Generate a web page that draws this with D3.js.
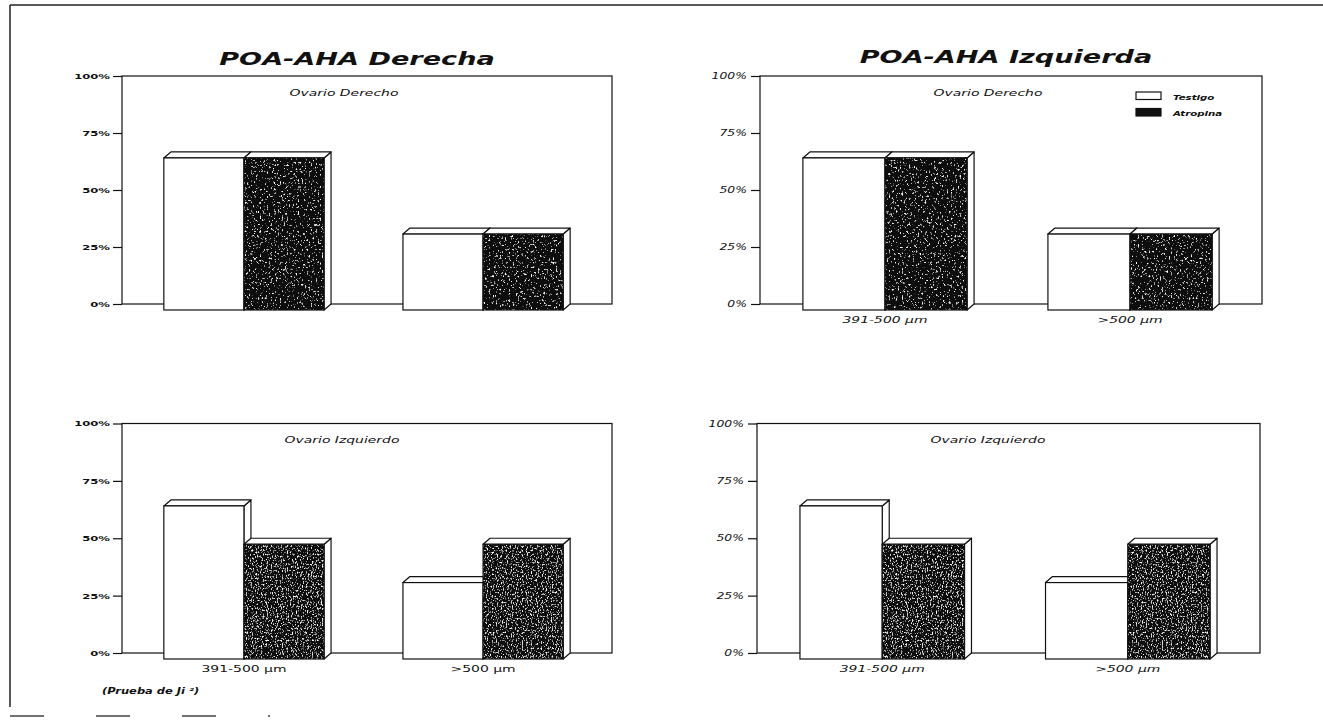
<!DOCTYPE html>
<html>
<head>
<meta charset="utf-8">
<script src="https://cdn.jsdelivr.net/npm/d3@7"></script>
<style>
  body { margin: 0; background: #fff; }
  svg { display: block; }
  text { font-family: "DejaVu Sans", sans-serif; fill: #111; }
</style>
</head>
<body>
<script>
const W = 1323, H = 721;
const SX = 1.55;   // the scanned lettering is wide, stretch glyphs horizontally
const dx = 7, dy = 6; // 3d depth of the bars

const categories = ["391-500 µm", ">500 µm"];
const series = ["Testigo", "Atropina"];
const yTicks = [0, 25, 50, 75, 100];

// percentages
const derOvDerTestigo = [66.7, 33.3];
const derOvDerAtropina = [66.7, 33.3];
const izqOvDerTestigo = [66.7, 33.3];
const izqOvDerAtropina = [66.7, 33.3];
const derOvIzqTestigo = [66.7, 33.3];
const derOvIzqAtropina = [50, 50];
const izqOvIzqTestigo = [66.7, 33.3];
const izqOvIzqAtropina = [50, 50];

const panels = [
    { title: "POA-AHA Derecha", sub: "Ovario Derecho", testigo: derOvDerTestigo, atropina: derOvDerAtropina,
      x0: 122, x1: 612, top: 76, bottom: 304, titleX: 357, titleY: 65, subX: 344, subY: 95.5,
      italic: false, cats: false, legend: false, tex: "speckTop" },
    { title: "POA-AHA Izquierda", sub: "Ovario Derecho", testigo: izqOvDerTestigo, atropina: izqOvDerAtropina,
      x0: 760, x1: 1262, top: 76, bottom: 304, titleX: 1006, titleY: 63, subX: 988, subY: 95.5,
      italic: true, cats: true, legend: true, tex: "speckTop" },
    { title: null, sub: "Ovario Izquierdo", testigo: derOvIzqTestigo, atropina: derOvIzqAtropina,
      x0: 122, x1: 612, top: 423.5, bottom: 653, subX: 342, subY: 443,
      italic: false, cats: true, legend: false, tex: "speckBot" },
    { title: null, sub: "Ovario Izquierdo", testigo: izqOvIzqTestigo, atropina: izqOvIzqAtropina,
      x0: 757, x1: 1260, top: 423.5, bottom: 653, subX: 988, subY: 443,
      italic: true, cats: true, legend: false, tex: "speckBot" }
];

const svg = d3.select("body").append("svg")
    .attr("width", W)
    .attr("height", H);

// speckled dark fill, like the scanned hatch
const defs = svg.append("defs");
function speckle(id, seed, freq, a, b) {
    const f = defs.append("filter").attr("id", id)
        .attr("x", 0).attr("y", 0).attr("width", 1).attr("height", 1);
    f.append("feTurbulence")
        .attr("type", "fractalNoise")
        .attr("baseFrequency", freq)
        .attr("numOctaves", 3)
        .attr("seed", seed)
        .attr("result", "noise");
    f.append("feColorMatrix")
        .attr("in", "noise")
        .attr("type", "matrix")
        .attr("values", `0 0 0 0 1  0 0 0 0 1  0 0 0 0 1  ${a} 0 0 0 ${b}`)
        .attr("result", "specks");
    f.append("feComposite")
        .attr("in", "specks")
        .attr("in2", "SourceGraphic")
        .attr("operator", "atop");
}
speckle("speckTop", 4, "0.55 0.45", 6, -3.75);
speckle("speckBot", 9, "0.8 0.5", 4.5, -2.5);

function label(g, x, y, txt, size, style, weight, anchor, sx) {
    return g.append("text")
        .attr("transform", `translate(${x},${y}) scale(${sx || SX},1)`)
        .attr("text-anchor", anchor || "middle")
        .style("font-size", size + "px")
        .style("font-style", style)
        .style("font-weight", weight)
        .text(txt);
}

// page frame from the scan
svg.append("line").attr("x1", 10).attr("x2", W).attr("y1", 5).attr("y2", 5)
    .attr("stroke", "#222").attr("stroke-width", 1.5);
svg.append("line").attr("x1", 10).attr("x2", 10).attr("y1", 5).attr("y2", 707)
    .attr("stroke", "#222").attr("stroke-width", 1.5);
svg.append("line").attr("x1", 10).attr("x2", 270).attr("y1", 716).attr("y2", 716)
    .attr("stroke", "#444").attr("stroke-width", 1.5)
    .attr("stroke-dasharray", "34 52");

panels.forEach(p => {
    const g = svg.append("g");

    const y = d3.scaleLinear().domain([0, 100]).range([p.bottom, p.top]);
    const xBand = d3.scaleBand()
        .domain(categories)
        .range([p.x0, p.x1 - dx])
        .paddingInner(0.33)
        .paddingOuter(0.175);
    const xSer = d3.scaleBand()
        .domain(series)
        .range([0, xBand.bandwidth()]);

    g.append("rect")
        .attr("x", p.x0).attr("y", p.top)
        .attr("width", p.x1 - p.x0).attr("height", p.bottom - p.top)
        .attr("fill", "none")
        .attr("stroke", "#111")
        .attr("stroke-width", 1.2);

    const yAxisG = g.append("g")
        .attr("transform", `translate(${p.x0},0)`)
        .call(d3.axisLeft(y)
            .tickValues(yTicks)
            .tickFormat(d => d + "%")
            .tickSize(9)
            .tickSizeOuter(0));
    yAxisG.select(".domain").remove();
    yAxisG.selectAll(".tick line").attr("stroke", "#111").attr("stroke-width", 1.2);
    yAxisG.selectAll(".tick text")
        .attr("x", null)
        .attr("transform", `translate(${p.italic ? -13 : -12},0) scale(${SX},1)`)
        .style("font-size", p.italic ? "8px" : "7.5px")
        .style("font-style", p.italic ? "oblique" : "normal")
        .style("font-weight", p.italic ? "normal" : "bold")
        .attr("fill", "#111");

    const vals = { Testigo: p.testigo, Atropina: p.atropina };
    const bars = [];
    categories.forEach((c, i) => {
        series.forEach(s => bars.push({ cat: c, ser: s, v: vals[s][i] }));
    });

    const bw = xSer.bandwidth();
    const y0 = y(0);
    const bar = g.selectAll(".bar")
        .data(bars)
        .join("g")
        .attr("class", "bar");

    // side face
    bar.append("path")
        .attr("d", d => {
            const x = xBand(d.cat) + xSer(d.ser) + bw;
            const yb = y(d.v);
            return `M${x},${yb + dy}L${x + dx},${yb}L${x + dx},${y0}L${x},${y0 + dy}Z`;
        })
        .attr("fill", "#fff").attr("stroke", "#111").attr("stroke-width", 1.2)
        .attr("stroke-linejoin", "round");
    // top face
    bar.append("path")
        .attr("d", d => {
            const x = xBand(d.cat) + xSer(d.ser);
            const yb = y(d.v);
            return `M${x},${yb + dy}L${x + dx},${yb}L${x + bw + dx},${yb}L${x + bw},${yb + dy}Z`;
        })
        .attr("fill", "#fff").attr("stroke", "#111").attr("stroke-width", 1.2)
        .attr("stroke-linejoin", "round");
    // front face
    bar.append("rect")
        .attr("x", d => xBand(d.cat) + xSer(d.ser))
        .attr("y", d => y(d.v) + dy)
        .attr("width", bw)
        .attr("height", d => y0 - y(d.v))
        .attr("fill", d => d.ser === "Testigo" ? "#fff" : "#0e0e0e")
        .attr("filter", d => d.ser === "Testigo" ? null : `url(#${p.tex})`);
    bar.append("rect")
        .attr("x", d => xBand(d.cat) + xSer(d.ser))
        .attr("y", d => y(d.v) + dy)
        .attr("width", bw)
        .attr("height", d => y0 - y(d.v))
        .attr("fill", "none")
        .attr("stroke", "#111")
        .attr("stroke-width", 1.2);

    if (p.cats) {
        const xAxisG = g.append("g")
            .attr("transform", `translate(0,${p.bottom})`)
            .call(d3.axisBottom(xBand).tickSize(0).tickPadding(12.5));
        xAxisG.select(".domain").remove();
        xAxisG.selectAll(".tick text")
            .attr("y", null)
            .attr("transform", `translate(0,12.5) scale(${SX},1)`)
            .style("font-size", "9px")
            .style("font-style", p.italic ? "oblique" : "normal")
            .attr("fill", "#111");
    }

    if (p.title) label(g, p.titleX, p.titleY, p.title, 17.5, "oblique", "bold");
    label(g, p.subX, p.subY, p.sub, 9, "oblique", "normal");

    if (p.legend) {
        const leg = g.append("g");
        series.forEach((s, i) => {
            leg.append("rect")
                .attr("x", 1136).attr("y", 92 + i * 16.5)
                .attr("width", 25).attr("height", 7.5)
                .attr("fill", i === 0 ? "#fff" : "#111")
                .attr("stroke", "#111").attr("stroke-width", 1.2);
            label(leg, 1173, 99.5 + i * 16.5, s, 6.6, "oblique", "bold", "start");
        });
    }
});

label(svg, 102, 694, "(Prueba de Ji ²)", 8.2, "oblique", "bold", "start", 1.4);
</script>
</body>
</html>
